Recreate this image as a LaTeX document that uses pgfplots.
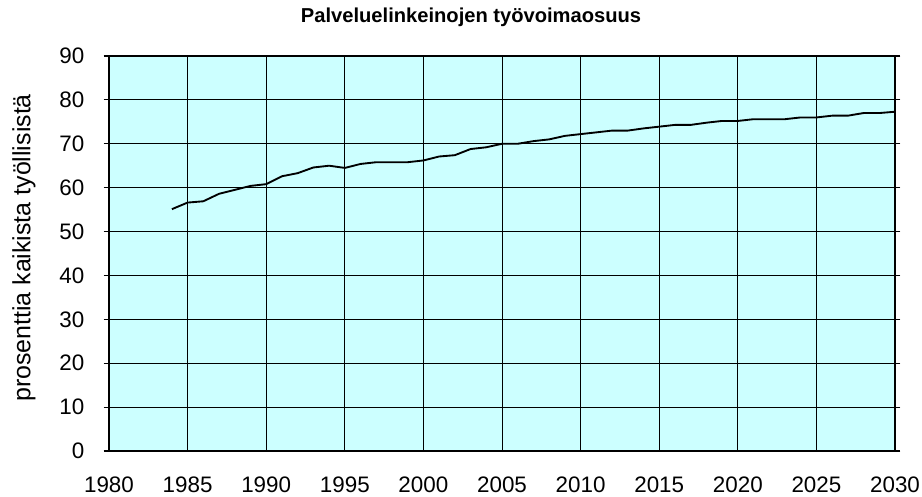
\documentclass[border=0pt]{standalone}
\usepackage{fontspec}
\setmainfont{Liberation Sans}
\usepackage{pgfplots}
\pgfplotsset{compat=1.18}
\definecolor{bgcyan}{RGB}{204,255,255}
\begin{document}
\begin{tikzpicture}[x=1pt,y=1pt]
\begin{axis}[
  scale only axis,
  width=589.5pt, height=296.25pt,
  xmin=1980, xmax=2030, ymin=0, ymax=90,
  xtick={1980,1985,...,2030}, ytick={0,10,...,90},
  /pgf/number format/assume math mode=true,
  /pgf/number format/1000 sep={},
  grid=major,
  grid style={black, line width=0.6pt},
  axis background/.style={fill=bgcyan},
  axis line style={black, line width=1.4pt},
  ytick style={black, line width=0.8pt},
  xtick style={draw=none},
  tick align=outside,
  major tick length=4pt,
  ticklabel style={font=\fontsize{16.8}{19}\selectfont},
  xticklabel style={yshift=-11.5pt},
  yticklabel style={xshift=-11pt},
  title={\textbf{Palveluelinkeinojen työvoimaosuus}},
  title style={at={(axis description cs:0.4606,1.078)}, anchor=center, yshift=0pt, font=\fontsize{15.1}{17}\selectfont},
  ylabel={prosenttia kaikista työllisistä},
  ylabel style={at={(axis description cs:-0.1081,0.514)}, anchor=center, font=\fontsize{18.7}{21}\selectfont},
]
\addplot[black, line width=1.4pt] coordinates {
(1984,55.1) (1985,56.6) (1986,56.9) (1987,58.6) (1988,59.5) (1989,60.4)
(1990,60.8) (1991,62.6) (1992,63.3) (1993,64.6) (1994,65.0) (1995,64.5)
(1996,65.4) (1997,65.8) (1998,65.8) (1999,65.8) (2000,66.2) (2001,67.1)
(2002,67.4) (2003,68.8) (2004,69.2) (2005,70.0) (2006,70.0) (2007,70.6)
(2008,71.0) (2009,71.8) (2010,72.2) (2011,72.6) (2012,73.0) (2013,73.0)
(2014,73.5) (2015,73.9) (2016,74.3) (2017,74.3) (2018,74.8) (2019,75.2)
(2020,75.2) (2021,75.6) (2022,75.6) (2023,75.6) (2024,76.0) (2025,76.0)
(2026,76.4) (2027,76.4) (2028,77.0) (2029,77.0) (2030,77.3)
};
\coordinate (bl) at (rel axis cs:-0.13868,-0.11646);
\coordinate (tr) at (rel axis cs:1.03435,1.14177);
\end{axis}
\pgfresetboundingbox
\path (bl) rectangle (tr);
\end{tikzpicture}
\end{document}
